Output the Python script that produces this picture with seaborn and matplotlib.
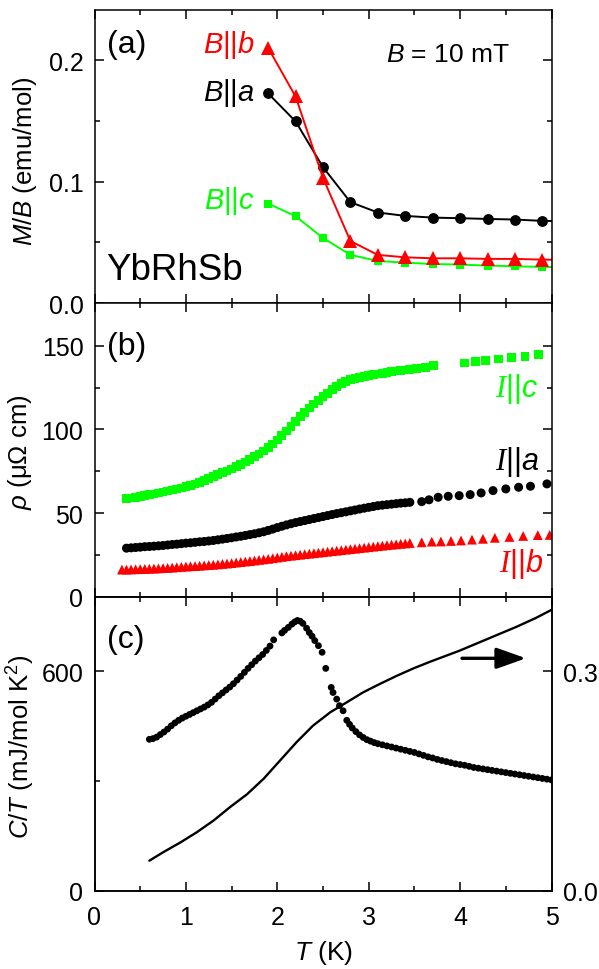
import numpy as np
import pandas as pd
import matplotlib
matplotlib.use("Agg")
import matplotlib.pyplot as plt
import seaborn as sns
from matplotlib.ticker import MultipleLocator, FormatStrFormatter, FixedLocator

# ---------------- data ----------------
# (a) magnetic susceptibility M/B (emu/mol)
T_a = [1.9, 2.2, 2.5, 2.8, 3.1, 3.4, 3.7, 4.0, 4.3, 4.6, 4.9, 5.2]
MB_a = [0.1725, 0.1495, 0.1118, 0.083, 0.0745, 0.0717, 0.0703, 0.0698, 0.0692, 0.0687, 0.0676, 0.0672]
MB_b = [0.210, 0.170, 0.103, 0.051, 0.0396, 0.0376, 0.0368, 0.0368, 0.0363, 0.0363, 0.0357, 0.0355]
MB_c = [0.0819, 0.0714, 0.0536, 0.0396, 0.0346, 0.0332, 0.0321, 0.0316, 0.0308, 0.0302, 0.0297, 0.0294]

# (b) resistivity rho (uOhm cm)
T_rc = [0.35, 0.40, 0.45, 0.50, 0.55, 0.60, 0.65, 0.70, 0.75, 0.80, 0.85, 0.90, 0.95, 1.00,
        1.05, 1.10, 1.15, 1.20, 1.25, 1.30, 1.35, 1.40, 1.45, 1.50, 1.55, 1.60, 1.65, 1.70,
        1.75, 1.80, 1.85, 1.90, 1.95, 2.00, 2.05, 2.10, 2.15, 2.20, 2.25, 2.30, 2.35, 2.40,
        2.45, 2.50, 2.55, 2.60, 2.65, 2.70, 2.75, 2.80, 2.85, 2.90, 2.95, 3.00, 3.05, 3.10,
        3.15, 3.20, 3.25, 3.30, 3.35, 3.40, 3.45,
        3.52, 3.62, 3.71, 4.05, 4.17, 4.28, 4.42, 4.56, 4.71, 4.86]
rho_c = [58.6, 59.0, 59.4, 59.9, 60.4, 60.9, 61.4, 62.0, 62.6, 63.1, 63.7, 64.3, 65.0, 65.7,
         66.5, 67.4, 68.4, 69.5, 70.7, 71.8, 72.9, 74.0, 75.1, 76.3, 77.6, 79.0, 80.5, 82.0,
         83.6, 85.3, 87.0, 89.0, 91.2, 93.7, 96.3, 99.0, 101.8, 104.7, 107.5, 110.2, 112.8, 115.2,
         117.4, 119.5, 121.5, 123.6, 125.6, 127.3, 128.7, 129.7, 130.5, 131.1, 131.7, 132.2, 132.7, 133.1,
         133.5, 134.0, 134.5, 134.9, 135.2, 135.5, 135.7,
         136.3, 137.1, 138.1, 139.7, 140.5, 141.1, 142.1, 143.1, 143.7, 144.7]

T_ra = [0.35, 0.40, 0.45, 0.50, 0.55, 0.60, 0.65, 0.70, 0.75, 0.80, 0.85, 0.90, 0.95, 1.00,
        1.05, 1.10, 1.15, 1.20, 1.25, 1.30, 1.35, 1.40, 1.45, 1.50, 1.55, 1.60, 1.65, 1.70,
        1.75, 1.80, 1.85, 1.90, 1.95, 2.00, 2.05, 2.10, 2.15, 2.20, 2.25, 2.30, 2.35, 2.40,
        2.45, 2.50, 2.55, 2.60, 2.65, 2.70, 2.75, 2.80, 2.85, 2.90, 2.95, 3.00, 3.05, 3.10,
        3.15, 3.20, 3.25, 3.30, 3.35, 3.40, 3.45,
        3.58, 3.66, 3.76, 3.87, 3.99, 4.11, 4.23, 4.36, 4.50, 4.64, 4.77, 4.95]
rho_a = [29.0, 29.2, 29.4, 29.6, 29.9, 30.0, 30.2, 30.4, 30.6, 30.9, 31.2, 31.4, 31.7, 32.0,
         32.2, 32.5, 32.8, 33.0, 33.3, 33.6, 34.0, 34.4, 34.8, 35.2, 35.7, 36.1, 36.6, 37.1,
         37.6, 38.2, 38.8, 39.6, 40.4, 41.3, 42.1, 42.9, 43.6, 44.3, 44.9, 45.5, 46.1, 46.7,
         47.3, 47.9, 48.5, 49.1, 49.7, 50.2, 50.7, 51.3, 51.8, 52.4, 52.9, 53.4, 53.9, 54.4,
         54.7, 55.0, 55.3, 55.6, 55.9, 56.1, 56.4,
         56.8, 57.9, 59.4, 60.0, 60.4, 61.0, 62.0, 63.4, 64.4, 65.4, 66.0, 67.4]

T_rb = [0.30, 0.35, 0.40, 0.45, 0.50, 0.55, 0.60, 0.65, 0.70, 0.75, 0.80, 0.85, 0.90, 0.95, 1.00,
        1.05, 1.10, 1.15, 1.20, 1.25, 1.30, 1.35, 1.40, 1.45, 1.50, 1.55, 1.60, 1.65, 1.70,
        1.75, 1.80, 1.85, 1.90, 1.95, 2.00, 2.05, 2.10, 2.15, 2.20, 2.25, 2.30, 2.35, 2.40,
        2.45, 2.50, 2.55, 2.60, 2.65, 2.70, 2.75, 2.80, 2.85, 2.90, 2.95, 3.00, 3.05, 3.10,
        3.15, 3.20, 3.25, 3.30, 3.35, 3.40, 3.45,
        3.58, 3.69, 3.79, 3.90, 4.01, 4.13, 4.25, 4.38, 4.54, 4.69, 4.85, 4.98]
rho_b = [16.2, 16.2, 16.3, 16.4, 16.5, 16.6, 16.7, 16.8, 16.9, 17.1, 17.2, 17.4, 17.6, 17.8, 18.0,
         18.2, 18.3, 18.5, 18.7, 18.9, 19.1, 19.3, 19.6, 19.8, 20.1, 20.4, 20.7, 21.0, 21.3,
         21.6, 22.0, 22.3, 22.6, 23.0, 23.4, 23.8, 24.2, 24.5, 24.8, 25.1, 25.4, 25.7, 26.0,
         26.3, 26.6, 26.9, 27.2, 27.5, 27.8, 28.1, 28.4, 28.7, 29.0, 29.3, 29.6, 29.9, 30.2,
         30.5, 30.8, 31.1, 31.3, 31.6, 31.8, 32.1,
         32.5, 32.9, 33.0, 33.3, 33.6, 34.1, 34.6, 35.2, 35.7, 36.3, 36.8, 36.9]

# (c) specific heat C/T (mJ/mol K^2)
T_C = [0.60, 0.64, 0.68, 0.72, 0.76, 0.80, 0.84, 0.88, 0.92, 0.96, 1.00, 1.04, 1.08, 1.12,
       1.16, 1.20, 1.24, 1.28, 1.32, 1.36, 1.40, 1.44, 1.48, 1.52, 1.56, 1.60, 1.64, 1.68,
       1.72, 1.76, 1.80, 1.84, 1.88, 1.92, 1.96,
       2.05, 2.08, 2.12, 2.16, 2.19, 2.22, 2.25, 2.28, 2.32, 2.35, 2.38, 2.41, 2.45, 2.49,
       2.53, 2.59, 2.61, 2.65, 2.68, 2.72, 2.76, 2.79, 2.82, 2.86, 2.90, 2.94, 2.98, 3.02,
       3.06, 3.10, 3.15, 3.20, 3.25, 3.30, 3.35, 3.40, 3.45, 3.50, 3.55, 3.60, 3.65, 3.70,
       3.75, 3.80, 3.85, 3.90, 3.95, 4.00, 4.05, 4.10, 4.15, 4.20, 4.25, 4.30, 4.35, 4.40,
       4.45, 4.50, 4.55, 4.60, 4.65, 4.70, 4.75, 4.80, 4.85, 4.90, 4.95, 5.00]
CT = [414, 416, 420, 427, 434, 442, 451, 459, 466, 472, 477, 482, 487, 492,
      497, 502, 508, 515, 524, 533, 541, 549, 557, 566, 576, 586, 597, 608,
      618, 628, 637, 646, 657, 669, 686,
      705, 712, 720, 729, 735, 739, 737, 731, 718, 706, 696, 684, 670, 652,
      608, 556, 542, 524, 506, 492, 466, 455, 445, 435, 426, 419, 413, 409,
      405, 402, 399, 396, 393, 390, 387, 384, 381, 378, 374, 370, 366, 363,
      359, 356, 353, 350, 347, 345, 343, 340, 337, 335, 333, 331, 329, 327,
      325, 323, 321, 319, 317, 315, 313, 311, 309, 307, 305, 303]

# (c) right axis curve
T_S = [0.60, 0.75, 0.94, 1.12, 1.30, 1.48, 1.67, 1.85, 2.03, 2.21, 2.39, 2.58, 2.76, 2.94,
       3.12, 3.31, 3.49, 3.67, 3.99, 4.20, 4.41, 4.62, 4.83, 5.00]
S_right = [0.041, 0.0525, 0.066, 0.080, 0.0957, 0.114, 0.132, 0.153, 0.178, 0.203, 0.2256,
           0.244, 0.2576, 0.2713, 0.2826, 0.294, 0.304, 0.313, 0.328, 0.339, 0.350, 0.361,
           0.373, 0.384]

# ---------------- style ----------------
sns.set_style("ticks")
plt.rcParams.update({
    "font.family": ["Liberation Sans", "DejaVu Sans"],
    "mathtext.fontset": "custom",
    "mathtext.rm": "Liberation Sans",
    "mathtext.it": "Liberation Sans:italic",
    "mathtext.bf": "Liberation Sans:bold",
    "mathtext.cal": "Liberation Serif:italic",
    "axes.linewidth": 1.1,
    "xtick.major.width": 1.1, "ytick.major.width": 1.1,
    "xtick.minor.width": 1.1, "ytick.minor.width": 1.1,
    "xtick.major.size": 6.5, "ytick.major.size": 6.5,
    "xtick.minor.size": 3.3, "ytick.minor.size": 3.3,
    "xtick.color": "black", "ytick.color": "black",
    "axes.edgecolor": "black",
    "text.color": "black",
})

RED = "#ff0000"
GREEN = "#00ff00"
BLACK = "#000000"

W, H = 599, 970
fig = plt.figure(figsize=(W / 100, H / 100), dpi=100)

L = 94.5 / W
AW = 457 / W
ax_a = fig.add_axes([L, 1 - 304 / H, AW, (304 - 11) / H])
ax_b = fig.add_axes([L, 1 - 597.7 / H, AW, (597.7 - 304) / H])
ax_c = fig.add_axes([L, 1 - 891.7 / H, AW, (891.7 - 597.7) / H])

TICK_FS = 18

def style_axis(ax, right=True, labelbottom=False):
    ax.set_xlim(0, 5)
    ax.xaxis.set_major_locator(MultipleLocator(1))
    ax.xaxis.set_minor_locator(MultipleLocator(0.5))
    ax.tick_params(which="both", direction="in", top=True, right=right,
                   bottom=True, left=True, labelsize=TICK_FS,
                   labelbottom=labelbottom)
    ax.tick_params(axis="x", which="major", pad=10.5)
    ax.tick_params(axis="y", which="major", pad=8)
    ax.set_xlabel("")
    ax.set_ylabel("")
    for s in ax.spines.values():
        s.set_visible(True)
        s.set_linewidth(1.1)

# ---------------- (a) ----------------
sns.lineplot(x=T_a, y=MB_a, ax=ax_a, color=BLACK, lw=1.4, marker="o", markersize=7.8,
             markeredgewidth=0, markeredgecolor=BLACK)
sns.lineplot(x=T_a, y=MB_c, ax=ax_a, color=GREEN, lw=1.4, marker="s", markersize=6.3,
             markeredgewidth=0, markeredgecolor=GREEN)
sns.lineplot(x=T_a, y=MB_b, ax=ax_a, color=RED, lw=1.4, marker="^", markersize=9.5,
             markeredgewidth=0, markeredgecolor=RED)
ax_a.set_ylim(0, 0.2412)
ax_a.yaxis.set_major_locator(FixedLocator([0.0, 0.1, 0.2]))
ax_a.yaxis.set_minor_locator(FixedLocator([0.05, 0.15]))
ax_a.yaxis.set_major_formatter(FormatStrFormatter("%.1f"))
style_axis(ax_a)

# ---------------- (b) ----------------
sns.scatterplot(x=T_rc, y=rho_c, ax=ax_b, color=GREEN, marker="s", s=40, linewidth=0, edgecolor="none")
sns.scatterplot(x=T_ra, y=rho_a, ax=ax_b, color=BLACK, marker="o", s=42, linewidth=0, edgecolor="none")
sns.scatterplot(x=T_rb, y=rho_b, ax=ax_b, color=RED, marker="^", s=50, linewidth=0, edgecolor="none")
ax_b.set_ylim(0, 175.5)
ax_b.yaxis.set_major_locator(FixedLocator([0, 50, 100, 150]))
ax_b.yaxis.set_minor_locator(FixedLocator([25, 75, 125]))
style_axis(ax_b)

# ---------------- (c) ----------------
sns.scatterplot(x=T_C, y=CT, ax=ax_c, color=BLACK, marker="o", s=24, linewidth=0, edgecolor="none")
ax_c.set_ylim(0, 804)
ax_c.yaxis.set_major_locator(FixedLocator([0, 600]))
ax_c.yaxis.set_minor_locator(FixedLocator([300]))
style_axis(ax_c, right=False, labelbottom=True)

ax_r = ax_c.twinx()
sns.lineplot(x=T_S, y=S_right, ax=ax_r, color=BLACK, lw=1.7)
ax_r.set_ylim(0, 0.402)
ax_r.yaxis.set_major_locator(FixedLocator([0.0, 0.3]))
ax_r.yaxis.set_minor_locator(FixedLocator([0.15]))
ax_r.yaxis.set_major_formatter(FormatStrFormatter("%.1f"))
ax_r.tick_params(which="both", direction="in", right=True, left=False, top=False,
                 labelsize=TICK_FS, pad=8)
ax_r.set_ylabel("")
ax_r.set_xlim(0, 5)

ax_c.annotate("", xy=((526 - 94.5) / 457, (891.7 - 659.3) / 294),
              xytext=((462 - 94.5) / 457, (891.7 - 659.3) / 294),
              xycoords="axes fraction", textcoords="axes fraction",
              arrowprops=dict(arrowstyle="-|>,head_length=0.9,head_width=0.32",
                              lw=2.4, color=BLACK, mutation_scale=20, shrinkA=0, shrinkB=0))

# ---------------- texts (figure pixel positions) ----------------
def ftext(px, py, s, **kw):
    fig.text(px / W, 1 - py / H, s, **kw)

ftext(107, 53, "(a)", fontsize=23, ha="left", va="baseline")
ftext(107, 355, "(b)", fontsize=23, ha="left", va="baseline")
ftext(107, 648, "(c)", fontsize=23, ha="left", va="baseline")
ftext(386, 62, r"$B$ = 10 mT", fontsize=19, ha="left", va="baseline")
ftext(106, 280, "YbRhSb", fontsize=26.5, ha="left", va="baseline")

ftext(255, 53, r"$B$||$b$", fontsize=21, ha="right", va="baseline", color=RED)
ftext(255, 101, r"$B$||$a$", fontsize=21, ha="right", va="baseline", color=BLACK)
ftext(255, 209, r"$B$||$c$", fontsize=21, ha="right", va="baseline", color=GREEN)

ftext(538, 397, r"$\mathcal{I}$||$c$", fontsize=22, ha="right", va="baseline", color=GREEN)
ftext(539, 470, r"$\mathcal{I}$||$a$", fontsize=22, ha="right", va="baseline", color=BLACK)
ftext(543, 572, r"$\mathcal{I}$||$b$", fontsize=22, ha="right", va="baseline", color=RED)

ftext(25, 161, r"$M$/$B$ (emu/mol)", fontsize=18.5, rotation=90, ha="center", va="center")
ftext(20, 452, r"$\rho$ (μΩ cm)", fontsize=18.5, rotation=90, ha="center", va="center")
ftext(21, 747, r"$C$/$T$ (mJ/mol K$^2$)", fontsize=18.5, rotation=90, ha="center", va="center")
ftext(324, 960, r"$T$ (K)", fontsize=19, ha="center", va="baseline")

fig.savefig("out.png", dpi=100)
